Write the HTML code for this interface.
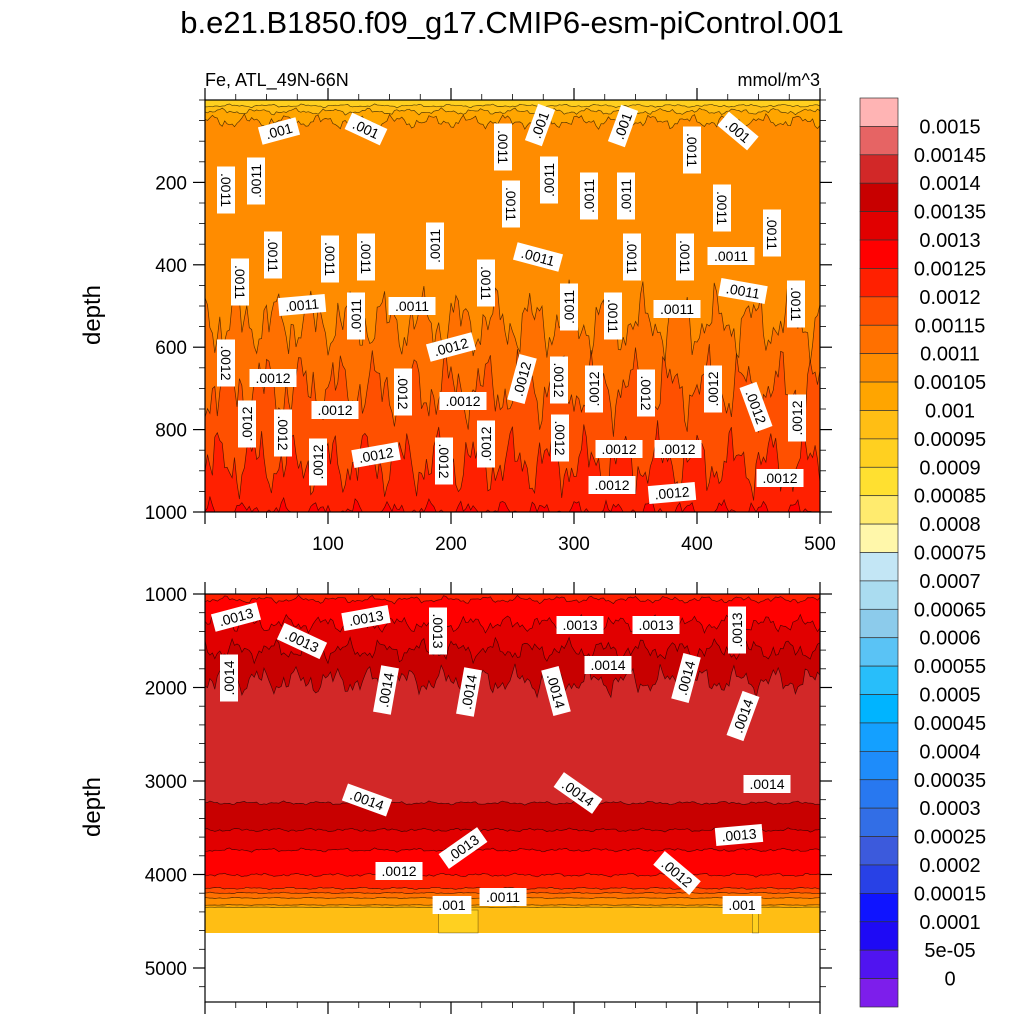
<!DOCTYPE html>
<html><head><meta charset="utf-8"><style>
html,body{margin:0;padding:0;background:#fff;}
svg{display:block;font-family:"Liberation Sans",sans-serif;}
</style></head><body>
<svg id="chart" width="1024" height="1024" viewBox="0 0 1024 1024">
<text x="512" y="33" font-size="31" text-anchor="middle">b.e21.B1850.f09_g17.CMIP6-esm-piControl.001</text>
<text x="205" y="86" font-size="18">Fe, ATL_49N-66N</text>
<text x="820" y="86" font-size="18" text-anchor="end">mmol/m^3</text>
<g id="top"></g>
<g id="bot"></g>
<g id="cbar"></g>
<text x="0" y="0" font-size="24" text-anchor="middle" transform="translate(100,315) rotate(-90)">depth</text>
<text x="0" y="0" font-size="24" text-anchor="middle" transform="translate(100,807) rotate(-90)">depth</text>
</svg>
<script>
// ---- data ----
const cbColors = ["#FFB4B4","#E66464","#D22828","#C80000","#E10000","#FF0000","#FF2000","#FF5000","#FF7000","#FF8C00","#FFA500","#FFBE14","#FFD020","#FFE030","#FFEB6E","#FFF7AA","#C3E6F5","#AADCF0","#8CCBEB","#5AC3F5","#28BEFA","#00B4FF","#14A0FF","#1E8CFA","#2878F0","#326EE6","#3C5ADC","#2841E6","#0F14FF","#1E0AF5","#5014F0","#7D1EEB"];
const cbLabels = ["0.0015","0.00145","0.0014","0.00135","0.0013","0.00125","0.0012","0.00115","0.0011","0.00105","0.001","0.00095","0.0009","0.00085","0.0008","0.00075","0.0007","0.00065","0.0006","0.00055","0.0005","0.00045","0.0004","0.00035","0.0003","0.00025","0.0002","0.00015","0.0001","5e-05","0"];
// top panel contour levels (increasing with depth): level, mean depth, wiggle amplitude
const topLevels = [0.00095,0.001,0.00105,0.0011,0.00115,0.0012,0.00125];
const topDepths = [14,28,52,540,700,880,1000];
const topAmps = [5,10,22,110,120,110,40];
const topBase = 0.0009;
// bottom panel: increasing levels then decreasing levels
const botIncLevels = [0.00125,0.0013,0.00135,0.0014];
const botIncDepths = [1060,1320,1600,1930];
const botIncAmps = [50,120,150,200];
const botIncBase = 0.0012;
const botDecLevels = [0.0014,0.00135,0.0013,0.00125,0.0012,0.00115,0.0011,0.00105,0.001];
const botDecDepths = [3235,3524,3738,4005,4148,4198,4251,4326,4350];
const botDecAmps = [25,25,25,25,15,10,8,5,3];
const botDataEnd = 4625;
const topXTicks = [100,200,300,400,500];
const topYTicks = [200,400,600,800,1000];
const botYTicks = [1000,2000,3000,4000,5000];
const topLabels = [[279,131,".001",-15],[366,129,".001",25],[503,147,".0011",90],[540,125,".001",-70],[623,126,".001",-70],[692,150,".0011",90],[738,131,".001",40],[226,190,".0011",90],[256,181,".0011",-90],[511,204,".0011",90],[549,180,".0011",-90],[589,196,".0011",-90],[626,196,".0011",-90],[722,208,".0011",90],[772,233,".0011",90],[273,255,".0011",90],[240,282,".0011",90],[330,259,".0011",90],[366,257,".0011",90],[435,246,".0011",-90],[538,257,".0011",15],[632,257,".0011",90],[685,257,".0011",90],[731,256,".0011",0],[302,305,".0011",-5],[412,306,".0011",0],[486,283,".0011",90],[356,316,".0011",-90],[569,307,".0011",-90],[613,316,".0011",90],[677,309,".0011",0],[743,291,".0011",10],[796,304,".0011",90],[226,363,".0012",90],[273,378,".0012",0],[451,347,".0012",-15],[403,392,".0012",90],[522,379,".0012",-75],[559,380,".0012",90],[594,389,".0012",-90],[646,393,".0012",90],[713,389,".0012",-90],[756,407,".0012",70],[797,418,".0012",-90],[247,424,".0012",-90],[283,433,".0012",90],[335,410,".0012",0],[463,401,".0012",0],[318,462,".0012",-90],[376,455,".0012",-10],[444,461,".0012",90],[486,444,".0012",-90],[560,438,".0012",90],[619,449,".0012",0],[678,449,".0012",0],[612,485,".0012",0],[672,493,".0012",-5],[780,478,".0012",0]];
const botLabels = [[236,617,".0013",-15],[302,641,".0013",25],[366,618,".0013",-10],[438,631,".0013",90],[580,625,".0013",0],[656,625,".0013",0],[737,630,".0013",-90],[229,678,".0014",-90],[608,665,".0014",0],[386,690,".0014",-80],[469,692,".0014",-80],[556,691,".0014",75],[686,678,".0014",-75],[743,716,".0014",-70],[367,800,".0014",20],[578,793,".0014",35],[767,784,".0014",0],[463,848,".0013",-35],[739,835,".0013",-5],[399,871,".0012",0],[677,873,".0012",40],[452,905,".001",0],[503,897,".0011",0],[742,905,".001",0]];

// ---- scales ----
const NS="http://www.w3.org/2000/svg";
const X0=205,X1=820;
const xs=v=>X0+v*(X1-X0)/500;
const yt=d=>100+d*0.412;
const yb=d=>594+(d-1000)*0.0935;
function bandColor(lo){return cbColors[Math.round((0.0015-lo)/0.00005)];}
function noise(x,s){return (Math.sin(0.21*x+s)+0.6*Math.sin(0.53*x+2*s)+0.45*Math.sin(1.17*x+3*s)+0.3*Math.sin(2.3*x+5*s))/2.35;}
function el(tag,attrs,parent){const e=document.createElementNS(NS,tag);for(const k in attrs)e.setAttribute(k,attrs[k]);parent.appendChild(e);return e;}

function boundary(mean,amp,seed,ysc,clipTop,clipBot){
  const pts=[];
  for(let x=0;x<=500;x+=2){let d=mean+amp*noise(x,seed);d=Math.max(clipTop,Math.min(clipBot,d));pts.push([xs(x),ysc(d)]);}
  return pts;
}
function drawBand(g,pts,bottomY,color,name){
  let d="M"+pts.map(p=>p[0].toFixed(1)+","+p[1].toFixed(1)).join("L")+"L"+X1+","+bottomY+"L"+X0+","+bottomY+"Z";
  const p=el("path",{d:d,fill:color},g);
  
  
  const l=el("path",{d:"M"+pts.map(p=>p[0].toFixed(1)+","+p[1].toFixed(1)).join("L"),fill:"none",stroke:"#000","stroke-opacity":"0.65","stroke-width":"0.7"},g);
  
  
}
function drawLabels(g,list){
  list.forEach(a=>{
    const t=el("g",{transform:`translate(${a[0]},${a[1]}) rotate(${a[3]})`},g);
    
    
    const w=a[2].length*8.2+6;
    el("rect",{x:-w/2,y:-9,width:w,height:18,fill:"#fff"},t);
    const tx=el("text",{x:0,y:5,"font-size":"14","text-anchor":"middle"},t);
    tx.textContent=a[2];
  });
}
function ticksY(g,vals,ysc,minorStep,lo,hi){
  for(let v=lo;v<=hi+1e-6;v+=minorStep){
    const y=ysc(v);const maj=vals.includes(Math.round(v));
    const len=maj?12:6;
    el("line",{x1:X0-len,x2:X0,y1:y,y2:y,stroke:"#000","stroke-width":maj?1.2:0.8},g);
    el("line",{x1:X1,x2:X1+len,y1:y,y2:y,stroke:"#000","stroke-width":maj?1.2:0.8},g);
  }
  vals.forEach(v=>{const t=el("text",{x:X0-18,y:ysc(v)+7,"font-size":"19","text-anchor":"end"},g);t.textContent=v;
    });
}
function ticksX(g,yTop,yBot,withLabels){
  for(let v=0;v<=500;v+=25){
    const x=xs(v);const maj=v%100===0;const len=maj?12:6;
    el("line",{x1:x,x2:x,y1:yTop-len,y2:yTop,stroke:"#000","stroke-width":maj?1.2:0.8},g);
    el("line",{x1:x,x2:x,y1:yBot,y2:yBot+len,stroke:"#000","stroke-width":maj?1.2:0.8},g);
  }
  if(withLabels) topXTicks.forEach(v=>{const t=el("text",{x:xs(v),y:yBot+38,"font-size":"19","text-anchor":"middle"},g);t.textContent=v;
    });
}

// ---- top panel ----
const gt=document.getElementById("top");
el("rect",{x:X0,y:yt(0),width:X1-X0,height:yt(1000)-yt(0),fill:bandColor(topBase)},gt);
topLevels.forEach((lv,i)=>{
  const pts=boundary(topDepths[i],topAmps[i],i*1.7+0.3,yt,0,1000);
  drawBand(gt,pts,yt(1000),bandColor(lv),"band-"+lv);
});
drawLabels(gt,topLabels);
el("rect",{x:X0,y:yt(0),width:X1-X0,height:yt(1000)-yt(0),fill:"none",stroke:"#000","stroke-width":"1.2"},gt);
ticksY(gt,topYTicks,yt,50,0,1000);
ticksX(gt,yt(0),yt(1000),true);

// ---- bottom panel ----
const gb=document.getElementById("bot");
const bTop=yb(1000),bEnd=yb(botDataEnd),bBot=1002;
el("rect",{x:X0,y:bTop,width:X1-X0,height:bEnd-bTop,fill:bandColor(botIncBase)},gb);
botIncLevels.forEach((lv,i)=>{
  const pts=boundary(botIncDepths[i],botIncAmps[i],i*2.3+1.1,yb,1000,botDataEnd);
  drawBand(gb,pts,bEnd,bandColor(lv),"band-"+lv);
});
botDecLevels.forEach((lv,i)=>{
  const pts=boundary(botDecDepths[i],botDecAmps[i],i*1.3+4.0,yb,1000,botDataEnd);
  drawBand(gb,pts,bEnd,bandColor(lv-0.00005),"band-lower-"+lv);
});
[[190,222],[445,450]].forEach(r=>{
  const p=el("rect",{x:xs(r[0]),y:yb(4380),width:xs(r[1])-xs(r[0]),height:bEnd-yb(4380),fill:"#FFD020",stroke:"#000","stroke-opacity":"0.5","stroke-width":"0.6"},gb);
  
});
drawLabels(gb,botLabels);
el("rect",{x:X0,y:bTop,width:X1-X0,height:bBot-bTop,fill:"none",stroke:"#000","stroke-width":"1.2"},gb);
ticksY(gb,botYTicks,yb,200,1000,5200);
ticksX(gb,bTop,bBot,false);

// ---- colorbar ----
const gc=document.getElementById("cbar");
const cx=860,cw=38,cy=98,ch=(1007-98)/32;
cbColors.forEach((c,i)=>{
  const r=el("rect",{x:cx,y:cy+i*ch,width:cw,height:ch,fill:c,stroke:"#333","stroke-width":"0.7"},gc);
  
});
cbLabels.forEach((s,i)=>{
  const t=el("text",{x:950,y:cy+(i+1)*ch+7,"font-size":"20","text-anchor":"middle"},gc);
  t.textContent=s;
  
});
</script>
</body></html>
